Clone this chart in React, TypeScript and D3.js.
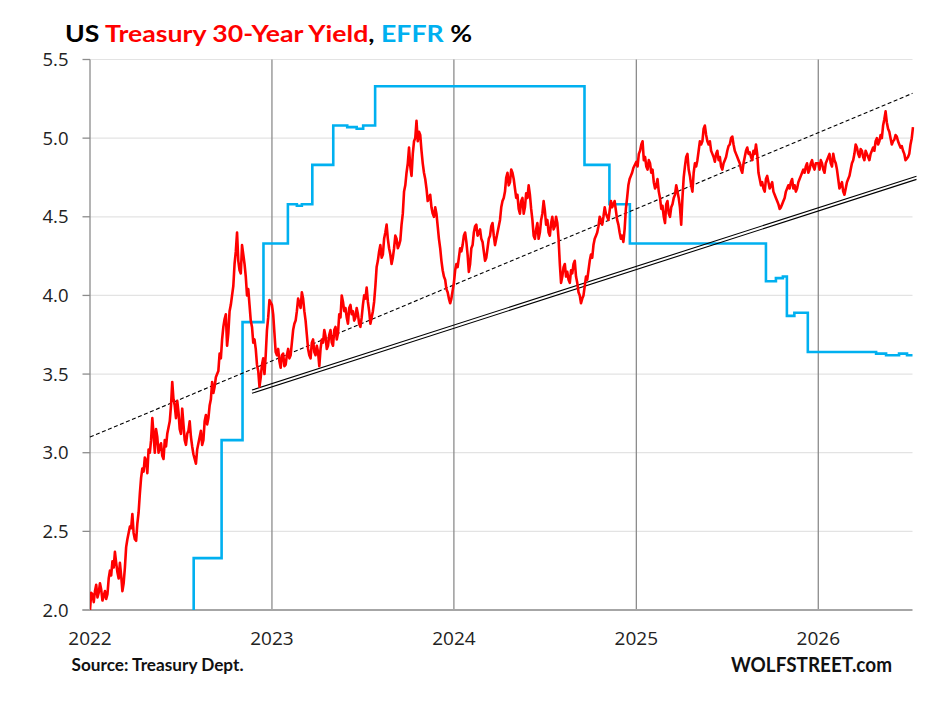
import React from "react";
import * as d3 from "d3";

// ---------- DATA ----------
// US Treasury 30-year yield, read every 5 days from Jan 1 of each year (y…),
// plus the reading half-way between each pair (m…)
const y2022 = [2.00,2.10,2.12,2.08,2.17,2.06,2.12,2.10,2.25,2.31,2.37,2.24,2.30,2.12,2.27,2.45,2.53,2.61,2.45,2.55,2.74,2.90,2.97,2.87,3.00,3.22,3.00,3.10,3.04,2.98,3.08,3.12,3.20,3.45,3.30,3.33,3.15,3.28,3.08,3.12,3.20,3.04,2.96,3.02,3.10,3.05,3.20,3.18,3.30,3.45,3.42,3.50,3.63,3.72,3.85,3.68,3.90,4.00,4.20,4.40,4.16,4.32,4.20,4.00,3.94,3.80,3.72,3.56,3.42,3.56,3.50,3.78,3.97];
const m2022 = [2.11,2.05,2.16,2.11,2.13,2.09,2.07,2.20,2.22,2.27,2.30,2.20,2.22,2.17,2.40,2.49,2.52,2.49,2.44,2.62,2.84,2.88,2.95,3.02,3.08,3.12,3.15,3.00,3.06,2.96,3.04,3.16,3.30,3.34,3.22,3.26,3.12,3.18,3.05,3.14,3.10,2.99,2.93,3.06,3.14,3.08,3.24,3.22,3.34,3.38,3.48,3.52,3.60,3.80,3.88,3.76,3.94,4.06,4.28,4.22,4.14,4.26,4.12,4.04,3.84,3.70,3.66,3.52,3.48,3.60,3.62,3.86];
const y2023 = [3.94,3.76,3.62,3.58,3.62,3.55,3.62,3.60,3.70,3.82,3.90,3.95,4.02,3.90,3.75,3.62,3.70,3.64,3.68,3.55,3.72,3.78,3.66,3.75,3.70,3.78,3.72,3.88,4.00,3.90,3.86,3.92,3.88,3.84,3.92,3.82,3.86,4.00,4.05,3.90,3.86,3.96,4.18,4.28,4.24,4.36,4.45,4.30,4.20,4.30,4.36,4.32,4.45,4.66,4.78,4.94,4.76,4.98,5.11,5.04,4.92,4.78,4.68,4.62,4.56,4.50,4.52,4.36,4.22,4.12,4.04,3.98,3.98];
const m2023 = [3.88,3.64,3.66,3.54,3.63,3.56,3.66,3.62,3.78,3.84,3.98,3.92,3.98,3.84,3.66,3.60,3.72,3.62,3.64,3.66,3.70,3.74,3.68,3.78,3.68,3.80,3.76,3.86,3.96,3.92,3.82,3.94,3.90,3.86,3.88,3.80,3.94,3.98,3.96,3.82,3.90,4.06,4.22,4.32,4.26,4.40,4.36,4.26,4.24,4.38,4.30,4.35,4.52,4.70,4.84,4.82,4.90,5.00,4.98,5.02,4.84,4.74,4.60,4.64,4.52,4.56,4.44,4.30,4.16,4.10,4.02,3.95];
const y2024 = [4.08,4.20,4.24,4.28,4.38,4.34,4.15,4.30,4.40,4.45,4.40,4.36,4.28,4.24,4.36,4.44,4.38,4.36,4.44,4.56,4.62,4.75,4.70,4.80,4.74,4.62,4.55,4.60,4.52,4.65,4.70,4.55,4.38,4.42,4.36,4.48,4.60,4.45,4.40,4.46,4.42,4.50,4.36,4.08,4.18,4.12,4.10,4.16,4.20,4.12,4.02,3.95,4.00,4.12,4.16,4.26,4.32,4.38,4.44,4.48,4.50,4.52,4.48,4.60,4.58,4.54,4.45,4.36,4.34,4.55,4.70,4.76,4.81];
const m2024 = [4.16,4.18,4.30,4.32,4.40,4.26,4.20,4.32,4.44,4.38,4.42,4.34,4.22,4.30,4.38,4.46,4.32,4.40,4.48,4.60,4.66,4.78,4.72,4.78,4.68,4.64,4.52,4.62,4.56,4.62,4.64,4.48,4.36,4.46,4.40,4.52,4.54,4.48,4.38,4.50,4.44,4.46,4.20,4.12,4.20,4.15,4.08,4.14,4.22,4.08,4.00,3.98,4.06,4.10,4.22,4.24,4.36,4.40,4.50,4.45,4.56,4.50,4.54,4.56,4.60,4.48,4.40,4.38,4.42,4.62,4.74,4.78];
const y2025 = [4.85,4.90,4.96,4.86,4.82,4.86,4.78,4.72,4.70,4.66,4.55,4.50,4.58,4.52,4.56,4.62,4.70,4.62,4.45,4.75,4.88,4.80,4.70,4.78,4.82,4.92,4.96,5.06,5.02,4.96,4.92,4.88,4.90,4.86,4.82,4.84,4.88,4.95,5.00,4.96,4.90,4.86,4.80,4.84,4.92,4.90,4.88,4.92,4.96,4.78,4.70,4.68,4.74,4.72,4.70,4.66,4.62,4.58,4.56,4.60,4.66,4.70,4.72,4.68,4.66,4.72,4.76,4.80,4.82,4.78,4.84,4.82,4.84];
const m2025 = [4.82,4.92,4.98,4.88,4.80,4.84,4.80,4.68,4.74,4.62,4.57,4.46,4.60,4.50,4.58,4.64,4.66,4.56,4.62,4.82,4.90,4.76,4.66,4.84,4.86,4.98,4.98,5.08,4.98,4.98,4.90,4.85,4.92,4.88,4.80,4.86,4.92,4.96,5.01,4.92,4.88,4.84,4.78,4.88,4.94,4.91,4.86,4.90,4.90,4.74,4.72,4.66,4.76,4.68,4.72,4.64,4.60,4.55,4.58,4.62,4.68,4.68,4.74,4.70,4.68,4.74,4.78,4.78,4.84,4.80,4.86,4.80];
const y2026 = [4.84,4.86,4.80,4.84,4.88,4.84,4.90,4.84,4.74,4.70,4.66,4.68,4.74,4.80,4.86,4.96,4.90,4.93,4.88,4.92,4.88,4.90,4.94,4.98,4.96,5.02,5.08,5.17,5.06,5.00,4.98,5.02,4.98,4.94,4.92,4.86,4.88,4.96,5.07];
const m2026 = [4.80,4.84,4.78,4.86,4.90,4.82,4.86,4.80,4.68,4.72,4.64,4.72,4.76,4.84,4.90,4.94,4.88,4.92,4.86,4.90,4.86,4.92,4.92,5.00,4.98,5.00,5.12,5.10,5.04,4.96,4.99,5.01,4.96,4.95,4.90,4.87,4.90,5.00];
const yieldYears = [2022, 2023, 2024, 2025, 2026];
const yieldSeries = [y2022, y2023, y2024, y2025, y2026];
const yieldMids = [m2022, m2023, m2024, m2025, m2026];
const stepDays = 5;

// EFFR step changes [date, rate]
const effrDates = ["2022-06-16","2022-07-28","2022-09-22","2022-11-03","2022-12-15","2023-02-02","2023-02-20","2023-03-02","2023-03-23","2023-05-04","2023-06-01","2023-06-20","2023-07-03","2023-07-27","2024-09-19","2024-11-08","2024-12-19","2025-09-18","2025-10-08","2025-10-22","2025-10-30","2025-11-14","2025-12-11","2026-04-27","2026-05-17","2026-06-12","2026-06-28","2026-07-09"];
const effrRates = [1.58,2.33,3.08,3.83,4.33,4.58,4.57,4.58,4.83,5.08,5.07,5.06,5.08,5.33,4.83,4.58,4.33,4.09,4.11,4.12,3.87,3.89,3.64,3.63,3.62,3.63,3.62,3.62];

// trend lines [date, value]
const dashedTrendDates = ["2022-01-01", "2026-07-09"];
const dashedTrendValues = [3.10, 5.285];
const doubleTrendDates = ["2022-11-22", "2026-07-17"];
const doubleTrendValues = [3.388, 4.748];

const yTicks = [2.0, 2.5, 3.0, 3.5, 4.0, 4.5, 5.0, 5.5];
const xTickYears = [2022, 2023, 2024, 2025, 2026];

// ---------- CHART ----------
const W = 946, H = 702;
const left = 90, right = 912.5, top = 59.5, bottom = 610;

const parse = (s: string) => new Date(s + "T00:00:00Z");

type Pt = { d: Date; v: number };

export default function App() {
  const x = d3.scaleUtc().domain([parse("2022-01-01"), parse("2026-07-09")]).range([left, right]);
  const y = d3.scaleLinear().domain([2, 5.5]).range([bottom, top]);

  const yieldPts: Pt[] = [];
  yieldSeries.forEach((arr, k) => {
    const mids = yieldMids[k];
    arr.forEach((v, i) => {
      yieldPts.push({ d: new Date(Date.UTC(yieldYears[k], 0, 1 + i * stepDays)), v });
      if (i < mids.length) {
        const t = Date.UTC(yieldYears[k], 0, 1 + i * stepDays) + (stepDays / 2) * 86400000;
        yieldPts.push({ d: new Date(t), v: mids[i] });
      }
    });
  });

  const effrPts: Pt[] = effrDates.map((s, i) => ({ d: parse(s), v: effrRates[i] }));

  const lineGen = d3.line<Pt>().x(p => x(p.d)).y(p => y(p.v));
  const stepGen = d3.line<Pt>().x(p => x(p.d)).y(p => y(p.v)).curve(d3.curveStepAfter);

  const dashed: Pt[] = dashedTrendDates.map((s, i) => ({ d: parse(s), v: dashedTrendValues[i] }));
  const dbl: Pt[] = doubleTrendDates.map((s, i) => ({ d: parse(s), v: doubleTrendValues[i] }));

  const font = "'Open Sans', sans-serif";
  const boldFont = "Lato, 'Open Sans', sans-serif";

  return (
    <svg width={W} height={H} style={{ position: "absolute", left: 0, top: 0, background: "#fff" }}>
      <defs>
        <clipPath id="plot">
          <rect x={left} y={top - 2} width={right - left + 2} height={bottom - top + 2} />
        </clipPath>
      </defs>
      <rect x={0} y={0} width={W} height={H} fill="#fff" />

      {/* title */}
      <text x={65} y={41.5} fontFamily={boldFont} fontWeight={700} fontSize={23.5} textLength={407} lengthAdjust="spacingAndGlyphs">
        <tspan fill="#000">US </tspan>
        <tspan fill="#FF0000">Treasury 30-Year Yield</tspan>
        <tspan fill="#000">, </tspan>
        <tspan fill="#00B0F0">EFFR</tspan>
        <tspan fill="#000"> %</tspan>
      </text>

      {/* horizontal gridlines */}
      {yTicks.map(t => (
        <g key={t}>
          {t > 2 && <line x1={left} x2={right} y1={y(t)} y2={y(t)} stroke="#E3E3E3" strokeWidth={1.2} />}
          <line x1={left - 7.5} x2={left} y1={y(t)} y2={y(t)} stroke="#8C8C8C" strokeWidth={1.3} />
          <text x={68.5} y={y(t)} dy="0.36em" textAnchor="end" fontFamily={font} fontSize={18.5} fill="#222">
            {t.toFixed(1)}
          </text>
        </g>
      ))}

      {/* vertical year lines */}
      {xTickYears.map(yr => {
        const xx = x(new Date(Date.UTC(yr, 0, 1)));
        return (
          <g key={yr}>
            <line x1={xx} x2={xx} y1={top} y2={bottom} stroke="#8C8C8C" strokeWidth={1.3} />
            <text x={xx} y={645} textAnchor="middle" fontFamily={font} fontSize={19} fill="#222">
              {yr}
            </text>
          </g>
        );
      })}

      {/* bottom axis */}
      <line x1={left - 7.5} x2={right} y1={bottom} y2={bottom} stroke="#A6A6A6" strokeWidth={2} />

      {/* EFFR */}
      <path d={stepGen(effrPts) || ""} fill="none" stroke="#00B0F0" strokeWidth={2.6} clipPath="url(#plot)" />

      {/* trend lines */}
      <path d={lineGen(dashed) || ""} fill="none" stroke="#000" strokeWidth={1.1} strokeDasharray="4,2.5" />
      <path d={lineGen(dbl) || ""} fill="none" stroke="#000" strokeWidth={1.1} transform="translate(0,-1.6)" />
      <path d={lineGen(dbl) || ""} fill="none" stroke="#000" strokeWidth={1.1} transform="translate(0,1.6)" />

      {/* 30-year yield */}
      <path d={lineGen(yieldPts) || ""} fill="none" stroke="#FF0000" strokeWidth={2.6} strokeLinejoin="round" clipPath="url(#plot)" />

      {/* footer */}
      <text x={71.5} y={671} fontFamily={boldFont} fontWeight={700} fontSize={16.5} fill="#111" textLength={172} lengthAdjust="spacingAndGlyphs">
        Source: Treasury Dept.
      </text>
      <text x={731} y={672} fontFamily={boldFont} fontWeight={700} fontSize={20.5} fill="#111" textLength={161} lengthAdjust="spacingAndGlyphs">
        WOLFSTREET.com
      </text>
    </svg>
  );
}
